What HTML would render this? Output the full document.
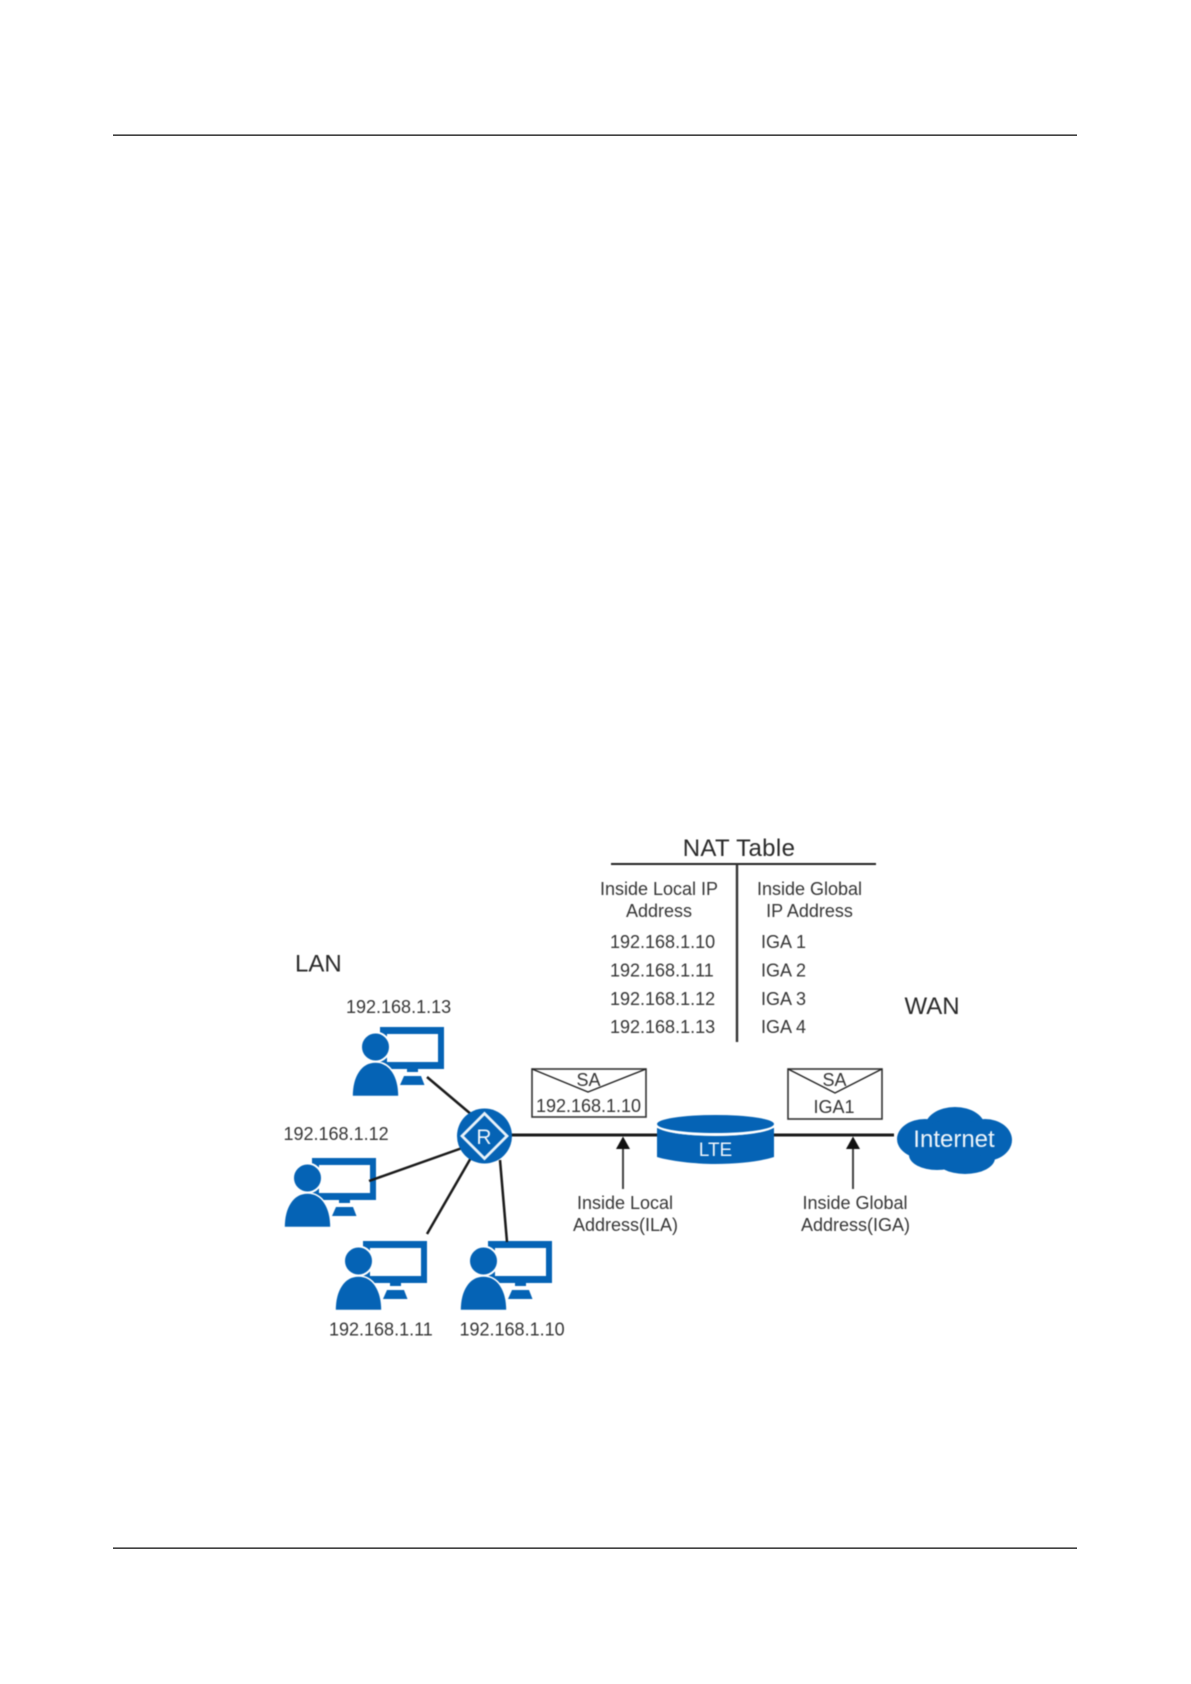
<!DOCTYPE html>
<html>
<head>
<meta charset="utf-8">
<style>
html,body{margin:0;padding:0;background:#fff;}
svg{display:block;}
text{font-family:"Liberation Sans",Arial,sans-serif;font-size:18px;fill:#363636;}
.big{font-size:24px;fill:#2a2a2a;}
.w{fill:#eef5fb;}
.m{text-anchor:middle;}
</style>
</head>
<body>
<svg width="1191" height="1684" viewBox="0 0 1191 1684" xmlns="http://www.w3.org/2000/svg">
<defs>
<g id="u">
  <path fill-rule="evenodd" fill="#0563b5" d="M380 1027H444V1069H418V1072H407V1069H380ZM387 1034V1062H438V1034Z"/>
  <path fill="#0563b5" d="M404 1076H421L424.5 1085H400Z"/>
  <circle cx="375.5" cy="1047" r="14.5" fill="#0563b5" stroke="#fff" stroke-width="2"/>
  <path fill="#0563b5" stroke="#fff" stroke-width="1.6" d="M352 1096.5C352 1076 361 1062 375.5 1062C390 1062 399 1076 399 1096.5Z"/>
</g>
</defs>
<rect width="1191" height="1684" fill="#fff"/>
<rect x="113" y="134.5" width="964" height="1.3" fill="#111"/>
<rect x="113" y="1547.5" width="964" height="1.3" fill="#111"/>

<g style="filter:blur(0.4px)">
<!-- table -->
<text class="big m" x="739" y="856" style="letter-spacing:.35px">NAT Table</text>
<line x1="611" y1="864" x2="876" y2="864" stroke="#222" stroke-width="2"/>
<line x1="737" y1="864" x2="737" y2="1042" stroke="#333" stroke-width="2.4"/>
<text class="m" x="659" y="895">Inside Local IP</text>
<text class="m" x="659" y="917">Address</text>
<text class="m" x="809.5" y="895">Inside Global</text>
<text class="m" x="809.5" y="917">IP Address</text>
<text x="610" y="948">192.168.1.10</text>
<text x="610" y="976.5">192.168.1.11</text>
<text x="610" y="1005">192.168.1.12</text>
<text x="610" y="1033">192.168.1.13</text>
<text x="761" y="948">IGA 1</text>
<text x="761" y="976.5">IGA 2</text>
<text x="761" y="1005">IGA 3</text>
<text x="761" y="1033">IGA 4</text>

<text class="big" x="295" y="971.5">LAN</text>
<text class="big" x="904.5" y="1014">WAN</text>

<text x="346" y="1013">192.168.1.13</text>
<text x="283.5" y="1140">192.168.1.12</text>
<text x="329" y="1335.5">192.168.1.11</text>
<text x="459.5" y="1335.5">192.168.1.10</text>

<!-- users -->
<use href="#u"/>
<use href="#u" transform="translate(-68 131)"/>
<use href="#u" transform="translate(-17 214)"/>
<use href="#u" transform="translate(108 214)"/>

<!-- connectors -->
<g stroke="#1a1a1a" stroke-width="2.5" fill="none">
  <line x1="427" y1="1077" x2="472" y2="1115"/>
  <line x1="369" y1="1181" x2="465" y2="1147"/>
  <line x1="427" y1="1234" x2="472" y2="1156"/>
  <line x1="500" y1="1160" x2="507" y2="1242"/>
</g>
<line x1="500" y1="1135" x2="894" y2="1135" stroke="#1a1a1a" stroke-width="3"/>

<!-- router -->
<circle cx="484.5" cy="1136" r="27.5" fill="#0563b5"/>
<path d="M484.5 1113.5L507 1136L484.5 1158.5L462 1136Z" fill="none" stroke="#e8f2fa" stroke-width="2.8"/>
<text class="w m" x="484" y="1144" style="font-size:21px">R</text>

<!-- envelopes -->
<g fill="#fff" stroke="#333" stroke-width="1.6">
  <rect x="532" y="1069" width="114" height="48"/>
  <rect x="788" y="1069" width="94" height="50"/>
</g>
<g fill="none" stroke="#222" stroke-width="1.4">
  <path d="M532 1069L588 1092L646 1069"/>
  <path d="M788 1069L835 1093L882 1069"/>
</g>
<text class="m" x="588.5" y="1086">SA</text>
<text class="m" x="588.5" y="1112">192.168.1.10</text>
<text class="m" x="834.5" y="1086">SA</text>
<text class="m" x="834" y="1113">IGA1</text>

<!-- arrows -->
<line x1="623" y1="1189" x2="623" y2="1146" stroke="#444" stroke-width="2"/>
<path d="M623 1136.5L630 1149H616Z" fill="#111"/>
<line x1="853" y1="1189" x2="853" y2="1146" stroke="#444" stroke-width="2"/>
<path d="M853 1136.5L860 1149H846Z" fill="#111"/>
<text class="m" x="625" y="1209">Inside Local</text>
<text class="m" x="625.5" y="1231">Address(ILA)</text>
<text class="m" x="855" y="1209">Inside Global</text>
<text class="m" x="855.5" y="1231">Address(IGA)</text>

<!-- LTE -->
<path fill="#0563b5" d="M657 1124V1157C670 1161 695 1164 715 1164C740 1164 762 1161 774 1157V1124Z"/>
<ellipse cx="715.5" cy="1125" rx="60" ry="11" fill="#fff"/>
<ellipse cx="715.5" cy="1124" rx="58.5" ry="9" fill="#0563b5"/>
<path d="M657 1127C672 1134 695 1135 715.5 1135C738 1135 760 1133 774 1127" fill="none" stroke="#fff" stroke-width="1.6"/>
<text class="w m" x="715.5" y="1156" style="font-size:19px">LTE</text>

<!-- cloud -->
<g fill="#0563b5">
  <ellipse cx="955" cy="1127" rx="30" ry="20"/>
  <ellipse cx="925" cy="1139" rx="28" ry="20"/>
  <ellipse cx="985" cy="1140" rx="27" ry="21"/>
  <ellipse cx="937" cy="1155" rx="28" ry="15"/>
  <ellipse cx="965" cy="1158" rx="30" ry="16"/>
  <ellipse cx="955" cy="1140" rx="40" ry="20"/>
</g>
<text class="w m" x="954" y="1147" style="font-size:24px">Internet</text>
</g>
</svg>
</body>
</html>
